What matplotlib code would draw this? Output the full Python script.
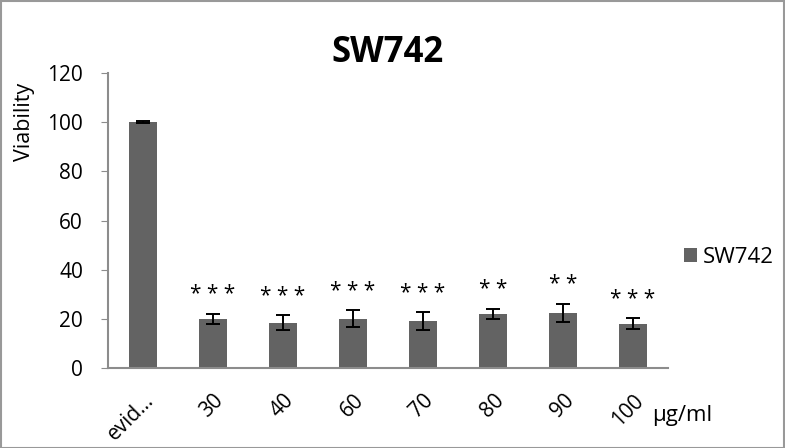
import matplotlib

matplotlib.use("Agg")
import matplotlib.pyplot as plt
from matplotlib.patches import Rectangle

plt.rcParams["font.family"] = ["Open Sans", "DejaVu Sans"]

categories = ["evid...", "30", "40", "60", "70", "80", "90", "100"]
viability = [100, 20, 18.4, 20, 19, 22, 22.5, 18]
errors = [0.3, 2, 3, 3.5, 3.7, 2, 3.7, 2.2]
stars = ["", "***", "***", "***", "***", "**", "**", "***"]
GREY = "#636363"
AXC = "#8c8c8c"

fig = plt.figure(figsize=(7.85, 4.48), dpi=100)
ax = fig.add_axes([0.1376, 0.1786, 0.7134, 0.6584])
x = range(len(categories))
ax.bar(x, viability, width=0.4, color=GREY, label="SW742",
       yerr=errors, capsize=5, error_kw=dict(ecolor="black", elinewidth=1.4, capthick=1.4))
for i, s in enumerate(stars):
    if s:
        ax.text(i, viability[i] + errors[i] + 3.5, " ".join(s), ha="center", va="bottom",
                fontsize=15)

ax.set_xlim(-0.5, len(categories) - 0.5)
ax.set_ylim(0, 120)
ax.set_yticks(range(0, 121, 20))
ax.set_xticks(list(x))
ax.set_xticklabels(categories, rotation=45, ha="right", rotation_mode="anchor")
ax.tick_params(axis="y", labelsize=15, length=5, color=AXC, direction="out", pad=13)
ax.tick_params(axis="x", labelsize=15, length=0, pad=16)
for sp in ["top", "right"]:
    ax.spines[sp].set_visible(False)
for sp in ["left", "bottom"]:
    ax.spines[sp].set_color(AXC)
    ax.spines[sp].set_linewidth(1.5)
ax.set_ylabel("Viability", fontsize=15.5)
ax.yaxis.set_label_coords(-0.13, 0.835)
ax.set_title("SW742", fontsize=25, fontweight="bold", pad=8)
ax.text(0.971, -0.16, "μg/ml", transform=ax.transAxes, fontsize=16, va="center")
ax.legend(loc="center left", bbox_to_anchor=(1.012, 0.375), frameon=False, fontsize=16,
          borderaxespad=0, handlelength=0.6, handleheight=0.6, handletextpad=0.25)

fig.patches.append(Rectangle((0.001, 0.001), 0.998, 0.997, transform=fig.transFigure,
                             fill=False, edgecolor="#999999", linewidth=1.5))
fig.savefig("out.png", dpi=100)
